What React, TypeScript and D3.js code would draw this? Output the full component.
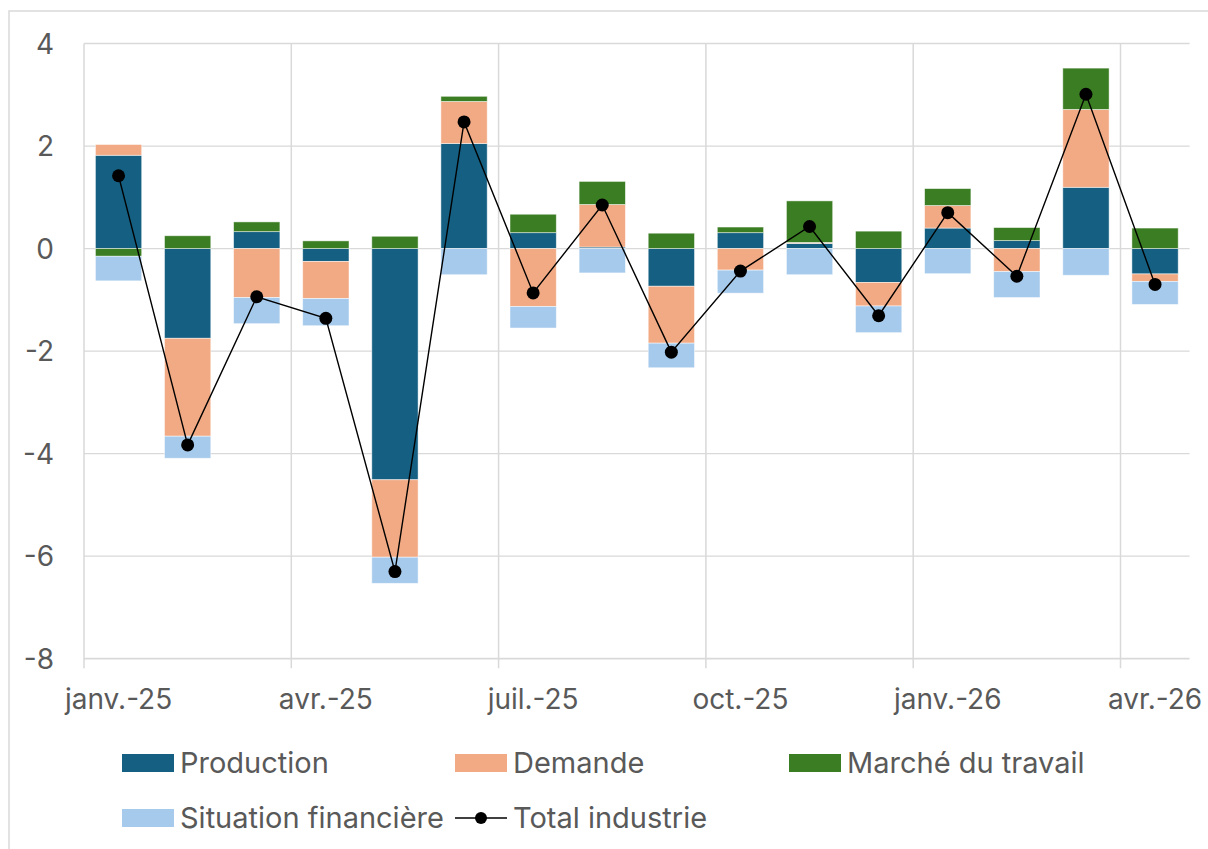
import React from 'react';
import * as d3 from 'd3';

const categories = ['janv.-25','févr.-25','mars-25','avr.-25','mai-25','juin-25','juil.-25','août-25','sept.-25','oct.-25','nov.-25','déc.-25','janv.-26','févr.-26','mars-26','avr.-26'];
const production = [1.82, -1.75, 0.33, -0.25, -4.51, 2.05, 0.31, 0.03, -0.735, 0.31, 0.10, -0.66, 0.40, 0.155, 1.195, -0.495];
const demande = [0.21, -1.91, -0.955, -0.725, -1.51, 0.82, -1.13, 0.83, -1.11, -0.42, 0.02, -0.46, 0.44, -0.45, 1.52, -0.145];
const marche = [-0.15, 0.25, 0.19, 0.15, 0.24, 0.10, 0.36, 0.45, 0.30, 0.11, 0.81, 0.34, 0.33, 0.255, 0.805, 0.40];
const finance = [-0.48, -0.43, -0.51, -0.53, -0.51, -0.51, -0.42, -0.475, -0.48, -0.45, -0.51, -0.52, -0.49, -0.505, -0.52, -0.45];
const total = [1.42, -3.83, -0.94, -1.36, -6.30, 2.47, -0.865, 0.85, -2.02, -0.44, 0.43, -1.31, 0.70, -0.54, 3.01, -0.70];
const yTicks = [4, 2, 0, -2, -4, -6, -8];
const xTickIndices = [0, 3, 6, 9, 12, 15];

const seriesNames = ['Production', 'Demande', 'Marché du travail', 'Situation financière'];
const seriesColors = ['#156082', '#F2AA84', '#3B7D23', '#A6CAEC'];
const totalName = 'Total industrie';

const W = 1208, H = 849;
const PL = 84, PR = 1189.6, PT = 43.5, PB = 658.7;
const FONT = 'Inter, "Liberation Sans", Arial, sans-serif';
const TXT = '#595959';
const GRID = '#d9d9d9';

export default function App() {
  const rows = categories.map((c, i) => ({
    cat: c,
    s0: production[i], s1: demande[i], s2: marche[i], s3: finance[i],
  }));
  const keys = ['s0', 's1', 's2', 's3'];
  const stacked = d3.stack<any>().keys(keys).offset(d3.stackOffsetDiverging)(rows);

  const x = d3.scaleBand<string>().domain(categories).range([PL, PR]).paddingInner(0.33).paddingOuter(0.165);
  const y = d3.scaleLinear().domain([-8, 4]).range([PB, PT]);
  const step = x.step();
  const bw = x.bandwidth();
  const cx = (i: number) => (x(categories[i]) as number) + bw / 2;

  const line = d3.line<number>().x((_, i) => cx(i)).y(d => y(d));

  const legendItems = [
    { name: seriesNames[0], color: seriesColors[0], lx: 122, ly: 0 },
    { name: seriesNames[1], color: seriesColors[1], lx: 455, ly: 0 },
    { name: seriesNames[2], color: seriesColors[2], lx: 789, ly: 0 },
    { name: seriesNames[3], color: seriesColors[3], lx: 122, ly: 1 },
  ];
  const rowY = [763, 818];

  return (
    <svg width={W} height={H} style={{ position: 'absolute', left: 0, top: 0, background: '#fff' }} fontFamily={FONT}>
      <rect x={0} y={0} width={W} height={H} fill="#fff" />
      <rect x={9} y={11} width={W + 20} height={H + 20} fill="none" stroke={GRID} strokeWidth={1.5} />
      {/* horizontal gridlines */}
      {yTicks.map(t => (
        <line key={'h' + t} x1={PL} x2={PR} y1={y(t)} y2={y(t)} stroke={GRID} strokeWidth={t === -8 ? 1.8 : 1.3} />
      ))}
      {/* vertical gridlines with tick extension */}
      {xTickIndices.map(i => {
        const gx = PL + i * step;
        return <line key={'v' + i} x1={gx} x2={gx} y1={PT} y2={PB + 9.5} stroke={GRID} strokeWidth={1.5} />;
      })}
      {/* y labels */}
      {yTicks.map(t => (
        <text key={'yl' + t} x={54} y={y(t)} dy="0.36em" textAnchor="end" fontSize={28} fill={TXT}>{t}</text>
      ))}
      {/* x labels */}
      {xTickIndices.map(i => (
        <text key={'xl' + i} x={cx(i)} y={709} textAnchor="middle" fontSize={28} fill={TXT}>{categories[i]}</text>
      ))}
      {/* bars */}
      {stacked.map((s, si) => (
        <g key={'s' + si} fill={seriesColors[si]}>
          {s.map((d, i) => {
            const y0 = y(d[0]), y1 = y(d[1]);
            const top = Math.min(y0, y1), h = Math.abs(y1 - y0);
            if (h < 0.01) return null;
            return <rect key={i} x={x(categories[i])} y={top} width={bw} height={h} stroke="#ffffff" strokeWidth={0.8} strokeOpacity={0.6} />;
          })}
        </g>
      ))}
      {/* total line */}
      <path d={line(total) || ''} fill="none" stroke="#000" strokeWidth={1.4} />
      {total.map((v, i) => (
        <circle key={'c' + i} cx={cx(i)} cy={y(v)} r={6.5} fill="#000" />
      ))}
      {/* legend */}
      {legendItems.map(it => (
        <g key={it.name}>
          <rect x={it.lx} y={rowY[it.ly] - 9} width={52} height={18} fill={it.color} />
          <text x={it.lx + 58} y={rowY[it.ly]} dy="0.36em" fontSize={29} fill={TXT}>{it.name}</text>
        </g>
      ))}
      <g>
        <line x1={455} x2={507} y1={rowY[1]} y2={rowY[1]} stroke="#000" strokeWidth={1.4} />
        <circle cx={481} cy={rowY[1]} r={6} fill="#000" />
        <text x={513} y={rowY[1]} dy="0.36em" fontSize={29} fill={TXT}>{totalName}</text>
      </g>
    </svg>
  );
}
